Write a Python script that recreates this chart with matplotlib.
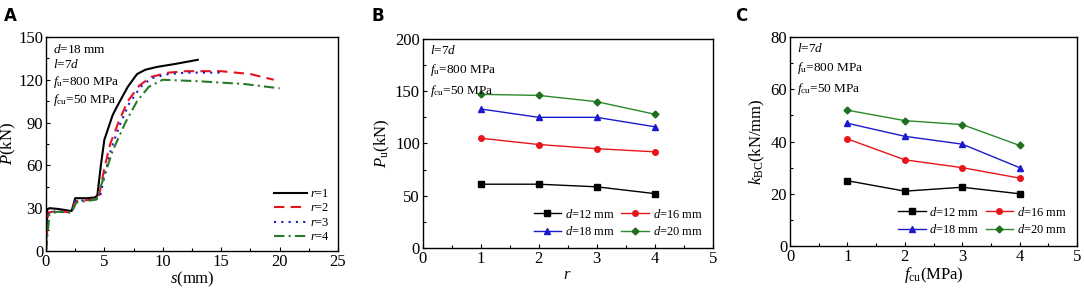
import matplotlib
matplotlib.use("Agg")
import matplotlib.pyplot as plt
from matplotlib.ticker import MultipleLocator

plt.rcParams['font.family'] = ['Liberation Serif', 'DejaVu Serif']
plt.rcParams['mathtext.fontset'] = 'custom'
plt.rcParams['mathtext.rm'] = 'Liberation Serif'
plt.rcParams['mathtext.it'] = 'Liberation Serif:italic'
plt.rcParams['xtick.direction'] = 'in'
plt.rcParams['ytick.direction'] = 'in'

# ---- panel A: load-slip curves ----
s_r1 = [0, 0.1, 0.3, 1.0, 2.2, 2.5, 3.5, 4.2, 4.4, 4.7, 5.0, 5.7, 6.0, 7.0, 7.8, 8.5, 9.5, 11, 13]
p_r1 = [0, 29, 30, 29.5, 28, 37, 37, 37.5, 39, 60, 78, 95, 100, 115, 124, 127, 129, 131, 134]
s_r2 = [0, 0.2, 1.0, 2.2, 2.5, 4.0, 4.5, 5.0, 5.5, 6.2, 7.0, 8.0, 9.0, 10.5, 12, 15, 17.5, 19.5]
p_r2 = [0, 27, 28, 27, 35, 36, 37, 58, 75, 90, 105, 116, 122, 125, 126, 126, 124, 120]
s_r3 = [0, 0.2, 1.0, 2.2, 2.5, 4.0, 4.6, 5.1, 5.6, 6.3, 7.1, 8.1, 9.0, 10.5, 12, 15]
p_r3 = [0, 27, 28, 27, 35, 36, 37, 56, 72, 88, 103, 115, 121, 124, 125, 125]
s_r4 = [0, 0.3, 1.0, 2.2, 2.6, 4.3, 5.1, 5.7, 6.8, 7.8, 8.8, 10, 13, 17, 20]
p_r4 = [0, 26, 27.5, 27, 34, 36, 55, 70, 90, 105, 115, 120, 119, 117, 114]

# ---- panels B and C: d series ----
r_vals = [1, 2, 3, 4]
pu_d12 = [61, 61, 58.5, 52]
pu_d16 = [105, 99, 95, 92]
pu_d18 = [133, 125, 125, 116]
pu_d20 = [147, 146, 140, 128]

fcu_vals = [1, 2, 3, 4]
k_d12 = [25, 21, 22.5, 20]
k_d16 = [41, 33, 30, 26]
k_d18 = [47, 42, 39, 30]
k_d20 = [52, 48, 46.5, 38.5]

d_labels = ['$d$=12 mm', '$d$=16 mm', '$d$=18 mm', '$d$=20 mm']

fig = plt.figure(figsize=(10.84, 2.91), dpi=100)
axA = fig.add_axes([0.0424, 0.1375, 0.2694, 0.7355])
axB = fig.add_axes([0.390, 0.148, 0.2675, 0.718])
axC = fig.add_axes([0.7288, 0.1546, 0.2648, 0.718])

tick_fs = 12
ann_fs = 9.5

def style(ax):
    ax.tick_params(labelsize=tick_fs, length=3, width=0.8, pad=2)
    ax.tick_params(which='minor', length=2, width=0.8)
    for sp in ax.spines.values():
        sp.set_linewidth(1.0)

# A
axA.plot(s_r1, p_r1, color='black', lw=1.5, label='$r$=1')
axA.plot(s_r2, p_r2, color='#e8141c', lw=1.5, ls=(0, (5, 3)), label='$r$=2')
axA.plot(s_r3, p_r3, color='#1a1acc', lw=1.5, ls=(0, (1, 2.5)), label='$r$=3')
axA.plot(s_r4, p_r4, color='#2a7a2a', lw=1.5, ls=(0, (5, 2, 1, 2)), label='$r$=4')
axA.set_xlim(0, 25)
axA.set_ylim(0, 150)
axA.xaxis.set_major_locator(MultipleLocator(5))
axA.xaxis.set_minor_locator(MultipleLocator(2.5))
axA.yaxis.set_major_locator(MultipleLocator(30))
axA.yaxis.set_minor_locator(MultipleLocator(15))
axA.set_xlabel('$s$(mm)', fontsize=12, labelpad=0)
axA.set_ylabel('$P$(kN)', fontsize=12, va='center')
axA.yaxis.set_label_coords(-0.128, 0.5)
axA.legend(loc='lower right', frameon=False, fontsize=9, handlelength=2.6,
           handletextpad=0.3, labelspacing=0.2, borderaxespad=0.2)
axA.text(0.024, 0.97, '$d$=18 mm\n$l$=7$d$\n$f_{\\rm u}$=800 MPa\n$f_{\\rm cu}$=50 MPa',
         transform=axA.transAxes, va='top', ha='left', fontsize=ann_fs, linespacing=1.2)
style(axA)

colors = ['black', '#e8141c', '#1a1acc', '#2a8a2a']
markers = ['s', 'o', '^', 'D']
mfc = ['black', '#e8141c', '#1a1acc', '#1f6f1f']

def dplot(ax, x, series):
    handles = []
    for i, y in enumerate(series):
        h, = ax.plot(x, y, color=colors[i], lw=1.0, marker=markers[i], ms=4 if i != 3 else 3.5,
                     mfc=mfc[i], mec=mfc[i], label=d_labels[i])
        handles.append(h)
    order = [0, 2, 1, 3]
    ax.legend([handles[i] for i in order], [d_labels[i] for i in order],
              loc='lower right', ncol=2, frameon=False, fontsize=9, handlelength=2.2,
              handletextpad=0.3, columnspacing=0.5, labelspacing=0.35, borderaxespad=0.4)
    ax.set_xlim(0, 5)
    ax.xaxis.set_major_locator(MultipleLocator(1))
    ax.xaxis.set_minor_locator(MultipleLocator(0.5))
    ax.text(0.024, 0.975, '$l$=7$d$\n$f_{\\rm u}$=800 MPa\n$f_{\\rm cu}$=50 MPa',
            transform=ax.transAxes, va='top', ha='left', fontsize=ann_fs, linespacing=1.45)
    style(ax)

dplot(axB, r_vals, [pu_d12, pu_d16, pu_d18, pu_d20])
axB.set_ylim(0, 200)
axB.yaxis.set_major_locator(MultipleLocator(50))
axB.yaxis.set_minor_locator(MultipleLocator(25))
axB.set_xlabel('$r$', fontsize=12, labelpad=0)
axB.set_ylabel('$P_{\\rm u}$(kN)', fontsize=12, va='center')
axB.yaxis.set_label_coords(-0.138, 0.5)

dplot(axC, fcu_vals, [k_d12, k_d16, k_d18, k_d20])
axC.set_ylim(0, 80)
axC.yaxis.set_major_locator(MultipleLocator(20))
axC.yaxis.set_minor_locator(MultipleLocator(10))
axC.set_xlabel('$f_{\\rm cu}$(MPa)', fontsize=12, labelpad=0)
axC.set_ylabel('$k_{\\rm BC}$(kN/mm)', fontsize=12, va='center')
axC.yaxis.set_label_coords(-0.115, 0.5)

for lab, x in [('A', 0.004), ('B', 0.343), ('C', 0.678)]:
    fig.text(x, 0.975, lab, fontsize=12, fontweight='bold', family='DejaVu Sans',
             va='top', ha='left')

fig.savefig('out.png', dpi=100)
